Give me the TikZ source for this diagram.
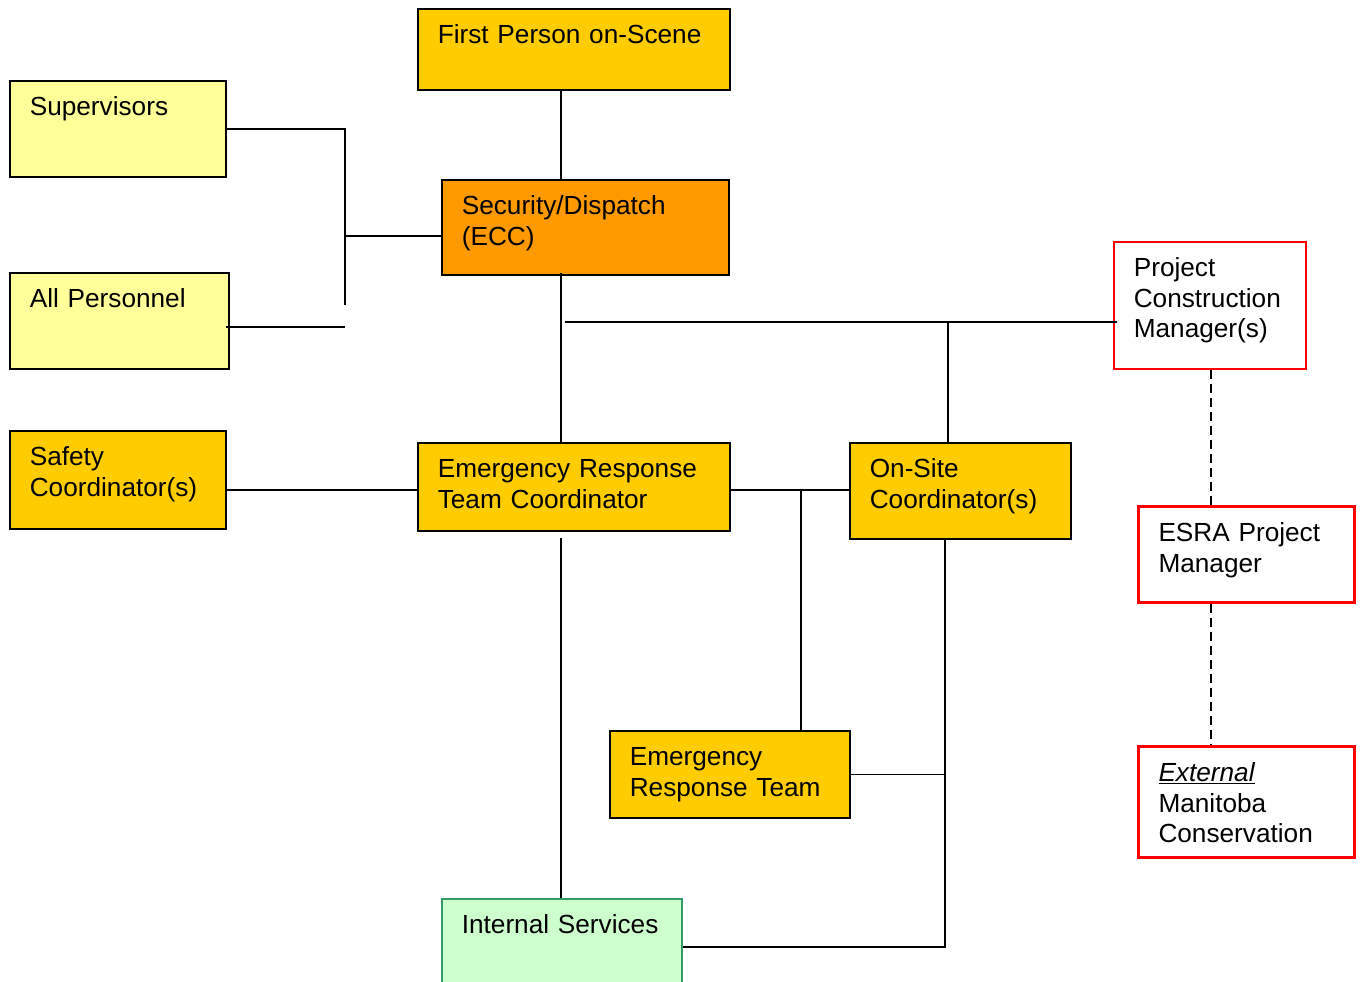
\documentclass[tikz,border=0pt]{standalone}
\usepackage{fontspec}
\setmainfont{Liberation Sans}
\definecolor{gold}{HTML}{FFCC00}
\definecolor{amber}{HTML}{FF9900}
\definecolor{paleyellow}{HTML}{FFFF99}
\definecolor{palegreen}{HTML}{CCFFCC}
\definecolor{seagreen}{HTML}{339966}
\hyphenpenalty=10000

\begin{document}
\begin{tikzpicture}[x=1pt, y=-1pt,
			unit/.style={draw, line width=1.6pt, anchor=north west, inner xsep=20pt, inner ysep=0pt,
				text height=35pt, align=left, font=\fontsize{26.2}{30.5}\selectfont},
			outside/.style={unit, draw=red, fill=white},
			link/.style={line width=1.6pt},
			dashlink/.style={line width=1.1pt, dash pattern=on 9pt off 5pt}]
			\useasboundingbox (0,0) rectangle (1360,982);
			\clip (0,0) rectangle (1360,982);
			% boxes
			\node[unit, fill=gold, text width=272pt, text depth=46pt] (first) at (417,8) {First Person on-Scene};
			\node[unit, fill=amber, text width=247pt, text depth=60pt] (disp) at (441,179) {Security/Dispatch\\(ECC)};
			\node[unit, fill=paleyellow, text width=176pt, text depth=61pt] (sup) at (9,80) {Supervisors};
			\node[unit, fill=paleyellow, text width=179pt, text depth=61pt] (all) at (9,272) {All Personnel};
			\node[unit, fill=gold, text width=176pt, text depth=63pt] (safety) at (9,430) {Safety\\Coordinator(s)};
			\node[unit, fill=gold, text width=272pt, text depth=53pt] (ertc) at (417,442) {Emergency Response\\Team Coordinator};
			\node[unit, fill=gold, text width=181pt, text depth=61pt] (onsite) at (849,442) {On-Site\\Coordinator(s)};
			\node[unit, fill=gold, text width=200pt, text depth=52pt] (team) at (609,730) {Emergency\\Response Team};
			\node[unit, draw=seagreen, fill=palegreen, text width=200pt, text depth=61pt] (internal) at (441,898) {Internal Services};
			\node[outside, text width=152pt, text depth=92pt] (pcm) at (1113,241) {Project\\Construction\\Manager(s)};
			\node[outside, line width=3pt, text width=176pt, text depth=61pt] (esra) at (1137,505) {ESRA Project\\Manager};
			\node[outside, line width=3pt, text width=176pt, text depth=76pt] (mbcons) at (1137,745) {\underline{\textit{External}}\\Manitoba\\Conservation};
			% connectors
			\coordinate (spine) at (561,0);
			\coordinate (rail) at (945,0);
			\coordinate (row) at (0,490);
			\coordinate (supend) at (345,305);
			\coordinate (bus) at (345,236);
			\coordinate (allend) at (345,327);
			\coordinate (pcmbus) at (565,322);
			\coordinate (onsitedrop) at (948,322);
			\coordinate (teamdrop) at (801,490);
			\coordinate (ext) at (1211,0);
			\draw[link] (spine |- first.south) -- (spine |- disp.north);
			\draw[link] (sup.east) -| (supend);
			\draw[link] (bus) -- (bus -| disp.west);
			\draw[link] ([xshift=-4pt]allend -| all.east) -- (allend);
			\draw[link] ([yshift=3pt]spine |- disp.south) -- (spine |- ertc.north);
			\draw[link] (pcmbus) -- ([xshift=4pt]pcmbus -| pcm.west);
			\draw[link] (onsitedrop) -- (onsitedrop |- onsite.north);
			\draw[link] (row -| safety.east) -- (row -| ertc.west);
			\draw[link] (row -| ertc.east) -- (row -| onsite.west);
			\draw[link] (teamdrop) -- (teamdrop |- team.north);
			\draw[link] ([yshift=-6pt]spine |- ertc.south) -- (spine |- internal.north);
			\draw[link] (rail |- onsite.south) -- (rail |- internal.east) -- (internal.east);
			\draw[link] (team.east) -- (rail |- team.east);
			\draw[dashlink] (ext |- pcm.south) -- (ext |- esra.north);
			\draw[dashlink] (ext |- esra.south) -- (ext |- mbcons.north);
		\end{tikzpicture}
\end{document}
